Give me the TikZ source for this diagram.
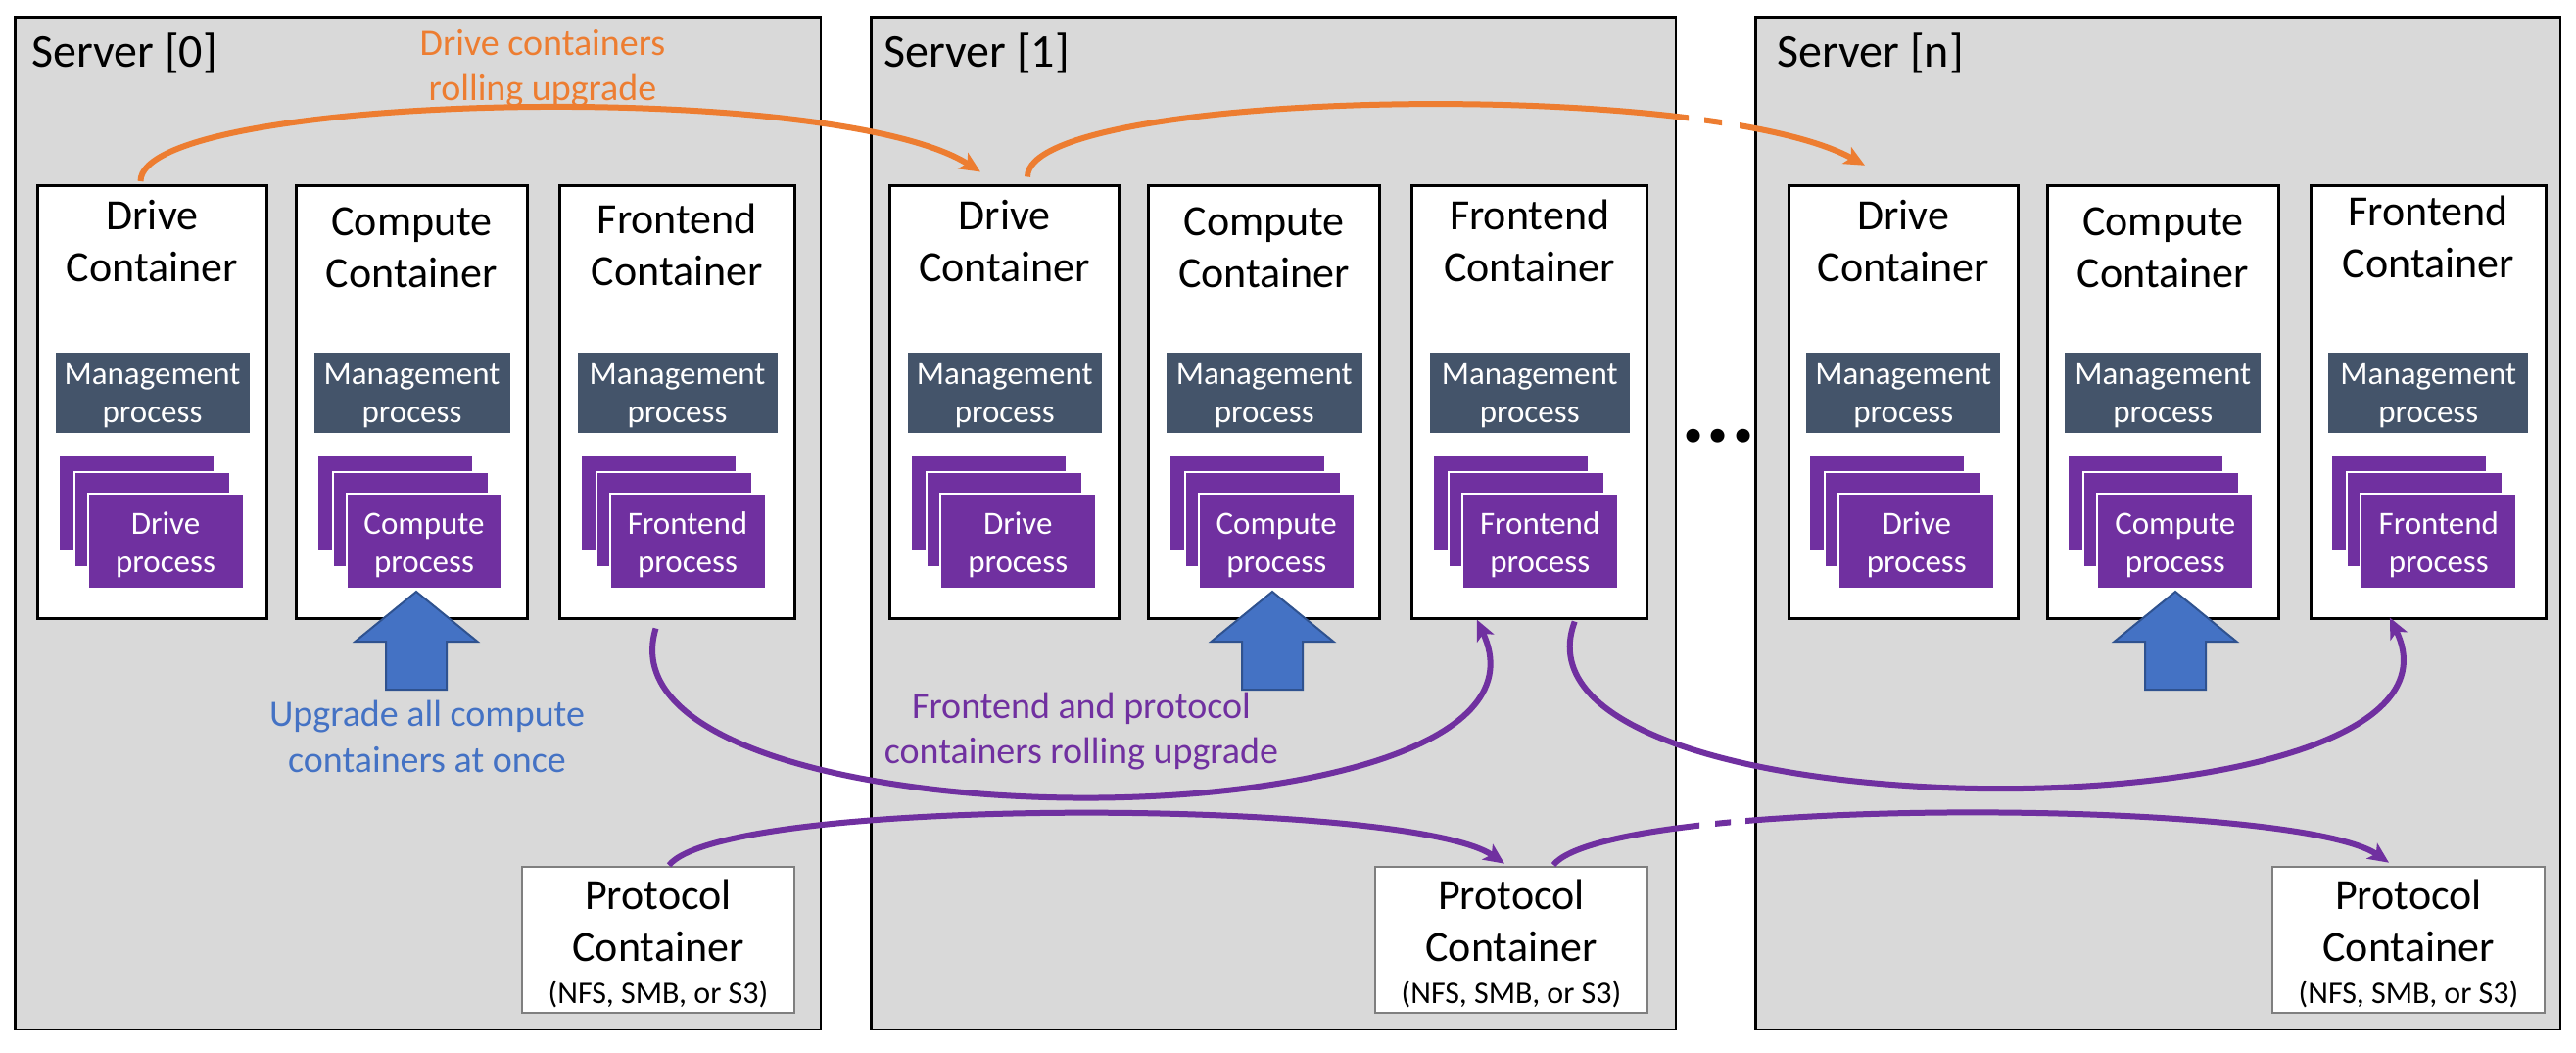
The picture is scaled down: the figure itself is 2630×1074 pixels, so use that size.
\documentclass[tikz,border=0pt]{standalone}
\usepackage{fontspec}
\setmainfont{Carlito}
\usetikzlibrary{arrows.meta,calc}
\definecolor{srvgray}{HTML}{D9D9D9}
\definecolor{mgmtc}{HTML}{44546A}
\definecolor{procc}{HTML}{7030A0}
\definecolor{orangec}{HTML}{ED7D31}
\definecolor{bluec}{HTML}{4472C4}
\definecolor{blueb}{HTML}{2F528F}
\definecolor{protob}{HTML}{7F7F7F}
\newcommand\fsrv{\fontsize{48}{58}\selectfont}
\newcommand\fcont{\fontsize{44}{53}\selectfont}
\newcommand\fproc{\fontsize{33}{39.5}\selectfont}
\newcommand\fnote{\fontsize{38}{46.5}\selectfont}
\newcommand\fsmall{\fontsize{32}{39}\selectfont}
\newcommand\fdots{\fontsize{94}{110}\selectfont\bfseries}
\newcommand\twol[2]{\begin{tabular}[t]{@{}c@{}}#1\\#2\end{tabular}}
\newcommand\cblock[5]{%
  \node[cont, minimum width=#3pt] (#1) at (#2,189.5) {};
  \node[txt, font=\fcont] (#1t) at ($(#1.north)+(0,#5)$) {\twol{#4}{Container}};
  \node[mgmt, minimum width=#3pt-36pt] (#1m) at ($(#1.north west)+(18,170.5)$) {};
  \node[txt, font=\fproc, text=white] (#1mt) at ($(#1m.north)+(0,32)$) {\twol{Management}{process}};
  \node[procbox] (#1a) at ($(#1.north west)+(21,275.5)$) {};
  \node[procbox] (#1b) at ($(#1.north west)+(37,292.5)$) {};
  \node[procbox] (#1c) at ($(#1.north west)+(51,314.5)$) {};
  \node[txt, font=\fproc, text=white] (#1ct) at ($(#1c.north)+(0,41)$) {\twol{#4}{process}};
}
\begin{document}
\begin{tikzpicture}[x=1pt,y=-1pt,
  srv/.style={draw=black, line width=2.5pt, fill=srvgray, anchor=north west, inner sep=0, outer sep=0, minimum height=1033.6pt},
  cont/.style={draw=black, line width=2.5pt, fill=white, anchor=north west, inner sep=0, outer sep=0, minimum height=442pt},
  mgmt/.style={fill=mgmtc, anchor=north west, inner sep=0, outer sep=0, minimum height=81.5pt},
  procbox/.style={fill=procc, draw=white, line width=2pt, anchor=north west, inner sep=0, outer sep=0, minimum width=159pt, minimum height=97pt},
  proto/.style={draw=protob, line width=2.5pt, fill=white, anchor=north west, inner sep=0, outer sep=0, minimum width=278pt, minimum height=149pt},
  txt/.style={anchor=base, inner sep=0, outer sep=0},
  barrow/.style={fill=bluec, draw=blueb, line width=2pt, line join=miter},
  oline/.style={draw=orangec, line width=6pt, -{Stealth[length=21pt,width=19pt,inset=5pt]}},
  pline/.style={draw=procc, line width=6pt, -{Stealth[length=21pt,width=19pt,inset=5pt]}}
]
\useasboundingbox (0,0) rectangle (2630,1074);
\fill[white] (0,0) rectangle (2630,1074);

\foreach \i/\lab/\sx/\sw/\lx/\gx/\fy/\ax/\px in {0/0/15.5/822.5/32/38.5/48.5/425/533, 1/1/889.5/821.5/902/908.7/44.5/1299/1404, 2/n/1792.5/821.5/1814/1826.3/40.5/2221/2320}{
  \node[srv, minimum width=\sw pt] (s\i) at (\sx,17.4) {};
  \node[anchor=base west, inner sep=0, font=\fsrv] (sl\i) at (\lx,68.5) {Server [\lab]};
  \cblock{d\i}{\gx}{234}{Drive}{44.5}
  \cblock{c\i}{\gx+264}{236}{Compute}{50.5}
  \cblock{f\i}{\gx+533}{240}{Frontend}{\fy}
  \node[proto] (p\i) at (\px,885) {};
  \node[txt, font=\fcont] (pt\i) at ($(p\i.north)+(0,43)$) {\begin{tabular}[t]{@{}c@{}}Protocol\\Container\\[-10pt]\fsmall (NFS, SMB, or S3)\end{tabular}};
  \draw[barrow] (\ax,604) -- ++(62.5,51) -- ++(-31.5,0) -- ++(0,49) -- ++(-62,0) -- ++(0,-49) -- ++(-31.5,0) -- cycle;
}

% ellipsis between servers
\node[anchor=base, inner sep=0, font=\fdots] (ell) at (1754.5,451) {...};

% labels
\node[txt, font=\fnote, text=orangec] (lo) at (554,56) {\twol{Drive containers}{rolling upgrade}};
\node[txt, font=\fnote, text=bluec] (lb) at (436,741.7) {\twol{Upgrade all compute}{containers at once}};
\node[txt, font=\fnote, text=procc] (lp) at (1104,733.3) {\twol{Frontend and protocol}{containers rolling upgrade}};

% orange drive rolling upgrade
\coordinate (o1s) at ($(d0.north west)+(105,-4.5)$);
\coordinate (o1e) at ($(d1.north west)+(92.3,-14)$);
\draw[oline] (o1s) .. controls +(0,-90) and +(-151,-96) .. (o1e);
\coordinate (o2s) at ($(d1.north west)+(140.3,-9)$);
\coordinate (o2e) at ($(d2.north west)+(77.7,-20.7)$);
\begin{scope}
  \clip (0,0) rectangle (1724,1074) (1740,0) rectangle (1758,1074) (1776,0) rectangle (2630,1074);
  \draw[oline] (o2s) .. controls +(0,-89) and +(-164,-90) .. (o2e);
\end{scope}

% purple frontend rolling upgrade
\coordinate (pAs) at ($(f0.south west)+(98,10)$);
\coordinate (pAe) at ($(f1.south west)+(66,1)$);
\draw[pline] (pAs) .. controls +(-70,230) and +(112,239) .. (pAe);
\coordinate (pBs) at ($(f1.south west)+(166,3)$);
\coordinate (pBe) at ($(f2.south west)+(80.6,-1)$);
\draw[pline] (pBs) .. controls +(-85,226) and +(112,230) .. (pBe);

% purple protocol rolling upgrade
\coordinate (pCs) at ($(p0.north west)+(150,-1.7)$);
\coordinate (pCe) at ($(p1.north west)+(132,-3.3)$);
\draw[pline] (pCs) .. controls +(57,-71.3) and +(-96,-66.7) .. (pCe);
\coordinate (pDs) at ($(p1.north west)+(182,-2)$);
\coordinate (pDe) at ($(p2.north west)+(119,-4.3)$);
\begin{scope}
  \clip (0,0) rectangle (1735,1074) (1751,0) rectangle (1767,1074) (1782,0) rectangle (2630,1074);
  \draw[pline] (pDs) .. controls +(57,-71) and +(-96,-66) .. (pDe);
\end{scope}
\end{tikzpicture}
\end{document}
